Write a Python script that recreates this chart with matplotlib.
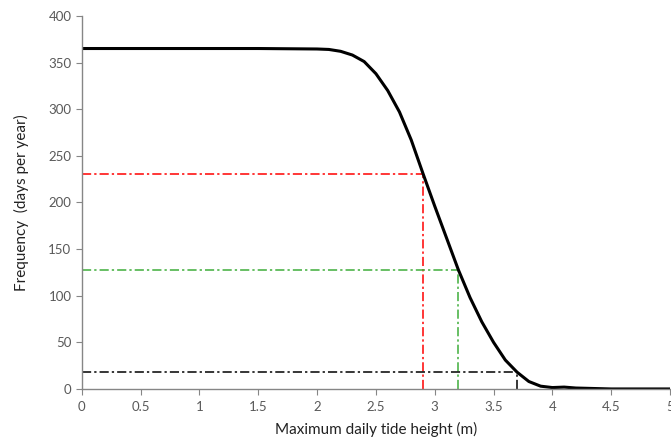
import numpy as np
import matplotlib.pyplot as plt

plt.rcParams['font.family'] = ['Lato', 'DejaVu Sans']

# exceedance curve
height = [0, 0.5, 1.0, 1.5, 2.0, 2.1, 2.2, 2.3, 2.4, 2.5, 2.6, 2.7, 2.8, 2.9,
          3.0, 3.1, 3.2, 3.3, 3.4, 3.5, 3.6, 3.7, 3.8, 3.9, 4.0, 4.1, 4.2, 4.5, 5.0]
days = [365, 365, 365, 365, 364.5, 364, 362, 358, 351, 338, 320, 297, 267, 231,
        196, 162, 128, 98, 72, 50, 31, 18, 8, 3, 1.5, 2, 1, 0, 0]

# reference levels (x, y, colour)
ref_x = [2.9, 3.2, 3.7]
ref_y = [231, 128, 18]
ref_col = ['#ff0000', '#3fae3a', '#000000']

fig = plt.figure(figsize=(6.71, 4.41), dpi=100)
ax = fig.add_axes([0.122, 0.118, 0.8765, 0.846])

for x, y, c in zip(ref_x, ref_y, ref_col):
    ax.plot([0, x], [y, y], color=c, lw=1.1, ls='-.', dashes=(6, 2, 1.5, 2))
    ax.plot([x, x], [0, y], color=c, lw=1.1, ls='-.', dashes=(6, 2, 1.5, 2))

ax.plot(height, days, color='black', lw=2.2, solid_capstyle='round')

ax.set_xlim(0, 5)
ax.set_ylim(0, 400)
ax.set_xticks(np.arange(0, 5.01, 0.5))
ax.set_xticklabels(['0', '0.5', '1', '1.5', '2', '2.5', '3', '3.5', '4', '4.5', '5'])
ax.set_yticks(np.arange(0, 401, 50))

for s in ['top', 'right']:
    ax.spines[s].set_visible(False)
for s in ['left', 'bottom']:
    ax.spines[s].set_color('#868686')
    ax.spines[s].set_linewidth(1.0)
ax.tick_params(colors='#868686', labelcolor='#595959', labelsize=9.5,
               length=4, direction='out')
ax.tick_params(axis='x', pad=5)

ax.set_xlabel('Maximum daily tide height (m)', fontsize=11, color='#222222', labelpad=6)
ax.set_ylabel('Frequency  (days per year)', fontsize=11, color='#222222', labelpad=14)

fig.savefig('out.png', dpi=100)
